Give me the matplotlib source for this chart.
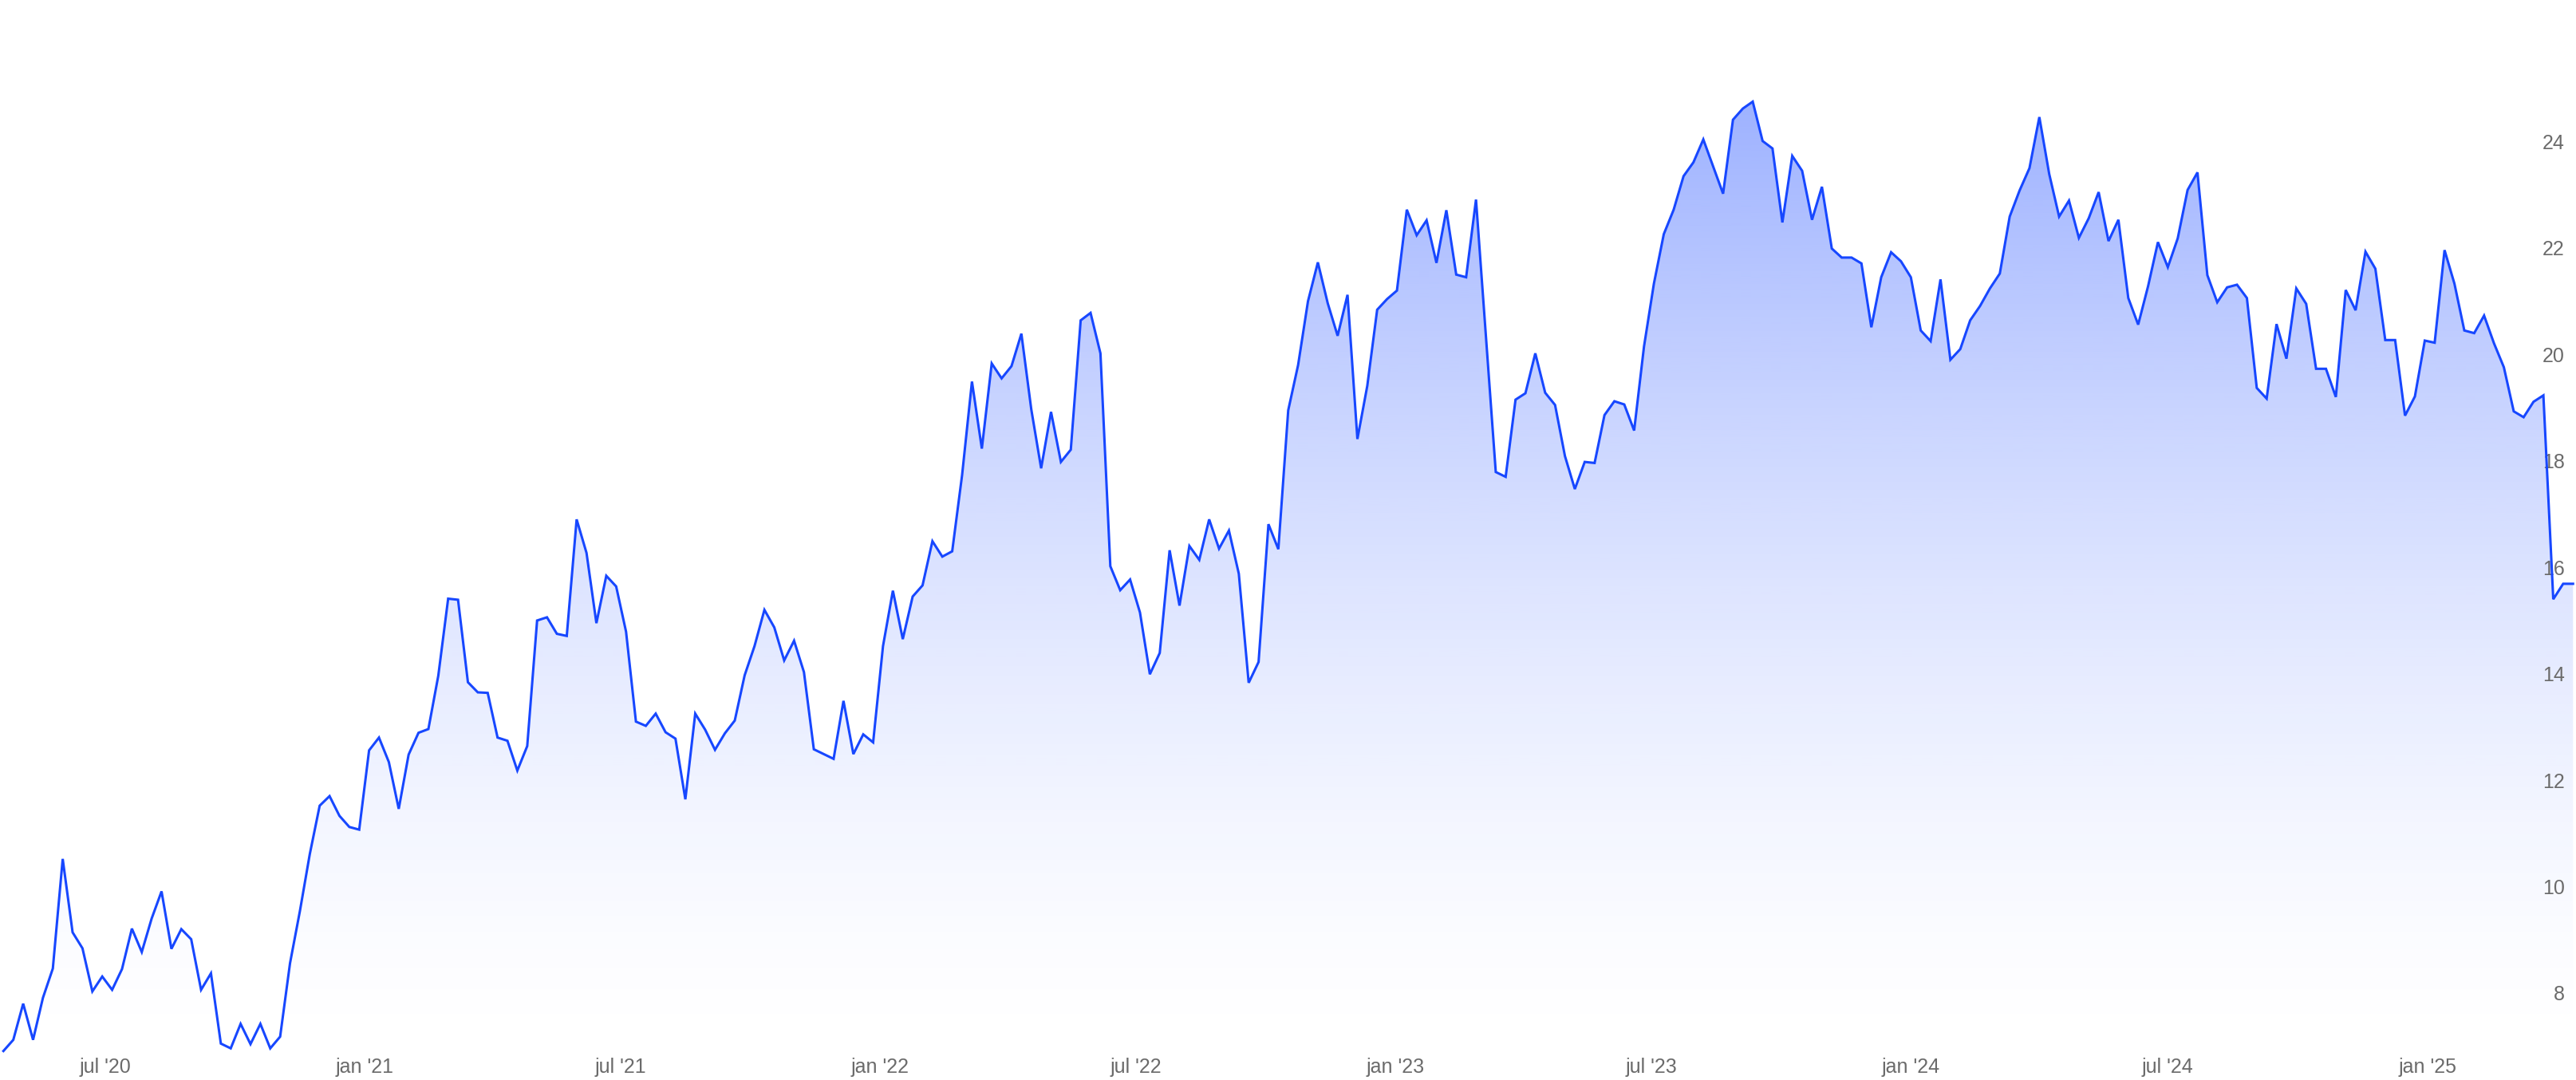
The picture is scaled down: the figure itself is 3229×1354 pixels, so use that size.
import numpy as np
import pandas as pd
import matplotlib
matplotlib.use("Agg")
import matplotlib.pyplot as plt
import matplotlib.dates as mdates
from matplotlib.ticker import FixedLocator, FixedFormatter

# weekly closes
start_date = "2020-04-20"
values = [
    6.91, 7.12, 7.80, 7.12, 7.91, 8.46, 10.52, 9.14, 8.84, 8.03,
    8.31, 8.06, 8.45, 9.21, 8.77, 9.40, 9.91, 8.83, 9.20, 9.01,
    8.06, 8.37, 7.05, 6.96, 7.42, 7.04, 7.42, 6.96, 7.18, 8.56,
    9.54, 10.61, 11.52, 11.70, 11.33, 11.12, 11.07, 12.56, 12.80, 12.34,
    11.46, 12.48, 12.89, 12.96, 13.96, 15.41, 15.39, 13.84, 13.65, 13.64,
    12.80, 12.74, 12.18, 12.64, 15.00, 15.06, 14.75, 14.71, 16.90, 16.27,
    14.95, 15.84, 15.64, 14.79, 13.10, 13.02, 13.25, 12.90, 12.78, 11.64,
    13.25, 12.95, 12.57, 12.88, 13.12, 13.97, 14.52, 15.20, 14.87, 14.25,
    14.62, 14.03, 12.58, 12.49, 12.40, 13.49, 12.49, 12.86, 12.71, 14.52,
    15.56, 14.65, 15.45, 15.66, 16.49, 16.20, 16.30, 17.73, 19.49, 18.23,
    19.83, 19.55, 19.78, 20.39, 18.97, 17.86, 18.92, 17.98, 18.21, 20.64,
    20.78, 20.02, 16.02, 15.57, 15.77, 15.15, 13.99, 14.39, 16.32, 15.28,
    16.40, 16.14, 16.90, 16.35, 16.69, 15.88, 13.83, 14.22, 16.81, 16.34,
    18.95, 19.80, 21.00, 21.73, 20.96, 20.35, 21.12, 18.41, 19.41, 20.84,
    21.04, 21.20, 22.72, 22.24, 22.52, 21.72, 22.71, 21.50, 21.45, 22.91,
    20.35, 17.79, 17.70, 19.15, 19.27, 20.02, 19.28, 19.05, 18.09, 17.47,
    17.98, 17.96, 18.86, 19.12, 19.06, 18.57, 20.15, 21.33, 22.26, 22.72,
    23.35, 23.61, 24.04, 23.53, 23.02, 24.41, 24.62, 24.75, 24.01, 23.87,
    22.48, 23.73, 23.45, 22.53, 23.15, 21.99, 21.82, 21.82, 21.71, 20.51,
    21.45, 21.92, 21.75, 21.45, 20.45, 20.25, 21.41, 19.90, 20.10, 20.64,
    20.91, 21.24, 21.52, 22.59, 23.08, 23.50, 24.46, 23.39, 22.59, 22.89,
    22.19, 22.56, 23.05, 22.13, 22.53, 21.06, 20.56, 21.28, 22.11, 21.64,
    22.18, 23.09, 23.42, 21.49, 20.98, 21.26, 21.31, 21.06, 19.37, 19.17,
    20.57, 19.92, 21.24, 20.95, 19.73, 19.73, 19.20, 21.21, 20.83, 21.93,
    21.61, 20.27, 20.27, 18.85, 19.21, 20.26, 20.22, 21.96, 21.33, 20.45,
    20.40, 20.73, 20.21, 19.76, 18.93, 18.82, 19.11, 19.23, 15.40, 15.69,
    15.69,
]

tick_dates = ["2020-07-01", "2021-01-01", "2021-07-01", "2022-01-01", "2022-07-01",
              "2023-01-01", "2023-07-01", "2024-01-01", "2024-07-01", "2025-01-01"]
tick_labels = ["jul '20", "jan '21", "jul '21", "jan '22", "jul '22",
               "jan '23", "jul '23", "jan '24", "jul '24", "jan '25"]
y_ticks = [8, 10, 12, 14, 16, 18, 20, 22, 24]

line_color = "#1747ff"
text_color = "#6b6b6b"

plt.rcParams["font.family"] = ["Liberation Sans", "DejaVu Sans"]

dates = pd.date_range(start_date, periods=len(values), freq="7D")
x = mdates.date2num(dates)
y = np.array(values)

fig = plt.figure(figsize=(32.3, 13.54), dpi=100)
ax = fig.add_axes([0, 29 / 1354, 1, 1 - 29 / 1354])

x0 = mdates.date2num(pd.Timestamp("2020-04-17 14:00"))
x1 = mdates.date2num(pd.Timestamp("2025-04-16 16:00"))
y0, y1 = 6.80, 26.66

# gradient under the line
vtop, vbot = y.max(), y0
levels = np.linspace(y0, y1, 600)
t = np.clip((levels - vbot) / (vtop - vbot), 0, 1)
rgb = matplotlib.colors.to_rgb(line_color)
grad = np.zeros((len(levels), 1, 4))
grad[:, 0, :3] = rgb
grad[:, 0, 3] = 0.42 * t ** 1.5
im = ax.imshow(grad, extent=[x0, x1, y0, y1], origin="lower", aspect="auto",
               interpolation="bilinear", zorder=1)
poly = ax.fill_between(x, y, y0, facecolor="none", edgecolor="none")
im.set_clip_path(poly.get_paths()[0], transform=ax.transData)

ax.plot(x, y, color=line_color, lw=2.2, zorder=3, solid_joinstyle="miter")

ax.set_xlim(x0, x1)
ax.set_ylim(y0, y1)

ax.xaxis.set_major_locator(FixedLocator(mdates.date2num(pd.to_datetime(tick_dates))))
ax.xaxis.set_major_formatter(FixedFormatter(tick_labels))
ax.yaxis.tick_right()
ax.set_yticks(y_ticks)
ax.set_yticklabels([str(v) for v in y_ticks])
ax.tick_params(axis="x", length=0, pad=1, labelsize=18, labelcolor=text_color)
ax.tick_params(axis="y", length=0, pad=-11, labelsize=18, labelcolor=text_color)
for lab in ax.get_yticklabels():
    lab.set_horizontalalignment("right")

for s in ax.spines.values():
    s.set_visible(False)
ax.set_facecolor("white")

fig.savefig("out.png", dpi=100, facecolor="white")
